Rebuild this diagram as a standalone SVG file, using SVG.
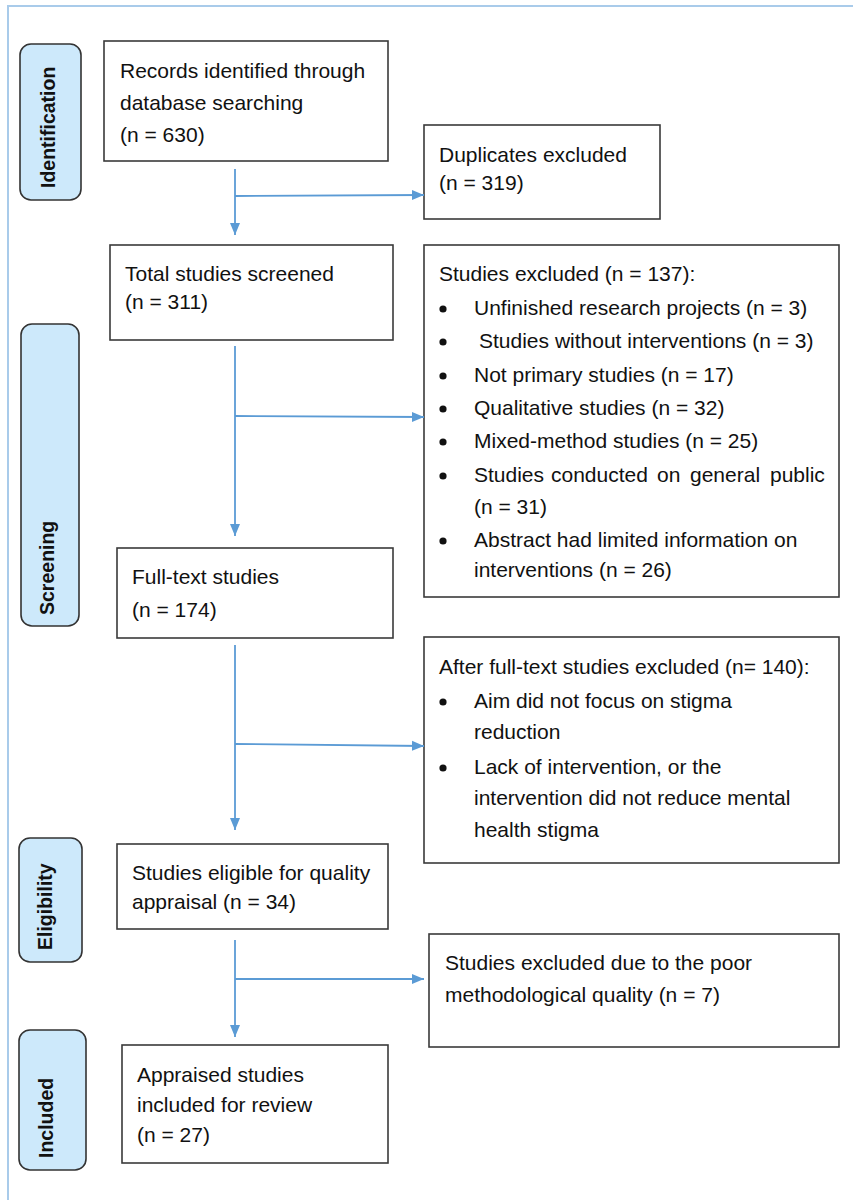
<svg xmlns="http://www.w3.org/2000/svg" width="853" height="1200" viewBox="0 0 853 1200">
<defs>
<style>
.box{fill:#fff;stroke:#3a3a3a;stroke-width:1.6}
.lab{fill:#cde9fb;stroke:#333;stroke-width:1.6}
.t{font-family:"Liberation Sans",Arial,sans-serif;font-size:21px;fill:#111}
.lt{font-family:"Liberation Sans",Arial,sans-serif;font-size:19.5px;font-weight:bold;fill:#111}
.c{fill:none;stroke:#5b9bd5;stroke-width:1.8}
.frame{fill:none;stroke:#a9cbea;stroke-width:2}
</style>
<marker id="ah" markerUnits="userSpaceOnUse" markerWidth="12" markerHeight="12" viewBox="0 0 12 12" refX="12" refY="6" orient="auto">
<path d="M0,1 L12,6 L0,11 Z" fill="#5b9bd5"/>
</marker>
</defs>
<rect width="853" height="1200" fill="#fff"/>
<path class="frame" d="M8,1200 L8,6 L853,6"/>

<g id="label-identification">
<rect class="lab" x="20" y="44" width="61" height="156" rx="11"/>
<text class="lt" transform="translate(55,188) rotate(-90)">Identification</text>
</g>
<g id="label-screening">
<rect class="lab" x="21" y="324" width="58" height="302" rx="11"/>
<text class="lt" transform="translate(54,615) rotate(-90)">Screening</text>
</g>
<g id="label-eligibility">
<rect class="lab" x="19" y="838" width="63" height="124" rx="11"/>
<text class="lt" transform="translate(52,950) rotate(-90)">Eligibility</text>
</g>
<g id="label-included">
<rect class="lab" x="19" y="1030" width="67" height="140" rx="11"/>
<text class="lt" transform="translate(53,1158) rotate(-90)">Included</text>
</g>

<g id="records">
<rect class="box" x="104" y="41" width="284" height="120"/>
<text class="t" x="120" y="78">Records identified through</text>
<text class="t" x="120" y="110">database searching</text>
<text class="t" x="120" y="142">(n = 630)</text>
</g>
<g id="duplicates">
<rect class="box" x="424" y="125" width="236" height="94"/>
<text class="t" x="439" y="162">Duplicates excluded</text>
<text class="t" x="439" y="190">(n = 319)</text>
</g>
<g id="screened">
<rect class="box" x="110" y="245" width="283" height="95"/>
<text class="t" x="125" y="281">Total studies screened</text>
<text class="t" x="125" y="309">(n = 311)</text>
</g>
<g id="excluded-137">
<rect class="box" x="424" y="245" width="415" height="352"/>
<text class="t" x="439" y="281">Studies excluded (n = 137):</text>
<g fill="#111">
<circle cx="443" cy="309" r="3.6"/>
<circle cx="443" cy="342" r="3.6"/>
<circle cx="443" cy="376" r="3.6"/>
<circle cx="443" cy="409" r="3.6"/>
<circle cx="443" cy="442" r="3.6"/>
<circle cx="443" cy="476" r="3.6"/>
<circle cx="443" cy="541" r="3.6"/>
</g>
<text class="t" x="474" y="315">Unfinished research projects (n = 3)</text>
<text class="t" x="479" y="348">Studies without interventions (n = 3)</text>
<text class="t" x="474" y="382">Not primary studies (n = 17)</text>
<text class="t" x="474" y="415">Qualitative studies (n = 32)</text>
<text class="t" x="474" y="448">Mixed-method studies (n = 25)</text>
<text class="t" y="482"><tspan x="474">Studies</tspan><tspan x="551">conducted</tspan><tspan x="657">on</tspan><tspan x="690">general</tspan><tspan x="770">public</tspan></text>
<text class="t" x="474" y="514">(n = 31)</text>
<text class="t" x="474" y="547">Abstract had limited information on</text>
<text class="t" x="474" y="577">interventions (n = 26)</text>
</g>
<g id="fulltext">
<rect class="box" x="117" y="548" width="276" height="90"/>
<text class="t" x="132" y="584">Full-text studies</text>
<text class="t" x="132" y="617">(n = 174)</text>
</g>
<g id="excluded-140">
<rect class="box" x="424" y="637" width="415" height="226"/>
<text class="t" x="439" y="674">After full-text studies excluded (n= 140):</text>
<circle cx="443" cy="702" r="3.6" fill="#111"/>
<circle cx="443" cy="768" r="3.6" fill="#111"/>
<text class="t" x="474" y="708">Aim did not focus on stigma</text>
<text class="t" x="474" y="739">reduction</text>
<text class="t" x="474" y="774">Lack of intervention, or the</text>
<text class="t" x="474" y="805">intervention did not reduce mental</text>
<text class="t" x="474" y="837">health stigma</text>
</g>
<g id="eligible">
<rect class="box" x="117" y="844" width="271" height="85"/>
<text class="t" x="132" y="880">Studies eligible for quality</text>
<text class="t" x="132" y="909">appraisal (n = 34)</text>
</g>
<g id="excluded-7">
<rect class="box" x="429" y="934" width="410" height="113"/>
<text class="t" x="445" y="970">Studies excluded due to the poor</text>
<text class="t" x="445" y="1002">methodological quality (n = 7)</text>
</g>
<g id="included">
<rect class="box" x="122" y="1045" width="266" height="118"/>
<text class="t" x="137" y="1082">Appraised studies</text>
<text class="t" x="137" y="1112">included for review</text>
<text class="t" x="137" y="1142">(n = 27)</text>
</g>

<g id="connectors">
<path class="c" d="M235,169 L235,235" marker-end="url(#ah)"/>
<path class="c" d="M235,196 L424,195" marker-end="url(#ah)"/>
<path class="c" d="M235,346 L235,536" marker-end="url(#ah)"/>
<path class="c" d="M235,416 L424,417" marker-end="url(#ah)"/>
<path class="c" d="M235,645 L235,830" marker-end="url(#ah)"/>
<path class="c" d="M235,744 L424,746" marker-end="url(#ah)"/>
<path class="c" d="M235,940 L235,1037" marker-end="url(#ah)"/>
<path class="c" d="M235,979 L424,979" marker-end="url(#ah)"/>
</g>
</svg>
